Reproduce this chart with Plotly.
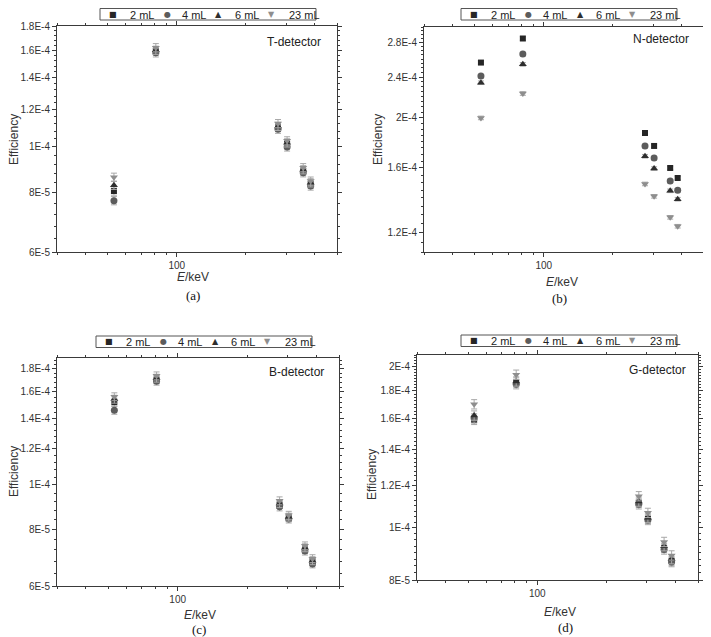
import math
import plotly.graph_objects as go

# ---------------- data ----------------
energies_keV = [53.16, 80.99, 276.40, 302.85, 356.01, 383.85]
volumes = ["2 mL", "4 mL", "6 mL", "23 mL"]

t_2ml = [8.07e-5, 1.595e-4, 1.100e-4, 1.015e-4, 8.90e-5, 8.35e-5]
t_4ml = [7.70e-5, 1.580e-4, 1.090e-4, 1.000e-4, 8.82e-5, 8.27e-5]
t_6ml = [8.30e-5, 1.600e-4, 1.105e-4, 1.020e-4, 8.95e-5, 8.40e-5]
t_23ml = [8.63e-5, 1.620e-4, 1.120e-4, 1.030e-4, 9.04e-5, 8.47e-5]

n_2ml = [2.56e-4, 2.85e-4, 1.870e-4, 1.765e-4, 1.600e-4, 1.530e-4]
n_4ml = [2.41e-4, 2.66e-4, 1.765e-4, 1.673e-4, 1.510e-4, 1.449e-4]
n_6ml = [2.34e-4, 2.54e-4, 1.686e-4, 1.596e-4, 1.445e-4, 1.392e-4]
n_23ml = [2.00e-4, 2.23e-4, 1.490e-4, 1.410e-4, 1.284e-4, 1.234e-4]

b_2ml = [1.520e-4, 1.704e-4, 9.06e-5, 8.48e-5, 7.22e-5, 6.80e-5]
b_4ml = [1.459e-4, 1.690e-4, 8.95e-5, 8.42e-5, 7.16e-5, 6.71e-5]
b_6ml = [1.543e-4, 1.716e-4, 9.10e-5, 8.50e-5, 7.28e-5, 6.82e-5]
b_23ml = [1.562e-4, 1.736e-4, 9.23e-5, 8.58e-5, 7.35e-5, 6.89e-5]

g_2ml = [1.590e-4, 1.867e-4, 1.114e-4, 1.040e-4, 9.18e-5, 8.68e-5]
g_4ml = [1.600e-4, 1.853e-4, 1.107e-4, 1.035e-4, 9.12e-5, 8.64e-5]
g_6ml = [1.620e-4, 1.875e-4, 1.120e-4, 1.045e-4, 9.25e-5, 8.75e-5]
g_23ml = [1.700e-4, 1.930e-4, 1.146e-4, 1.067e-4, 9.42e-5, 8.89e-5]

detectors = ["T-detector", "N-detector", "B-detector", "G-detector"]
panel_tags = ["(a)", "(b)", "(c)", "(d)"]

t_ytick_vals = [6e-5, 8e-5, 1e-4, 1.2e-4, 1.4e-4, 1.6e-4, 1.8e-4]
t_ytick_text = ["6E-5", "8E-5", "1E-4", "1.2E-4", "1.4E-4", "1.6E-4", "1.8E-4"]
n_ytick_vals = [1.2e-4, 1.6e-4, 2e-4, 2.4e-4, 2.8e-4]
n_ytick_text = ["1.2E-4", "1.6E-4", "2E-4", "2.4E-4", "2.8E-4"]
b_ytick_vals = [6e-5, 8e-5, 1e-4, 1.2e-4, 1.4e-4, 1.6e-4, 1.8e-4]
b_ytick_text = ["6E-5", "8E-5", "1E-4", "1.2E-4", "1.4E-4", "1.6E-4", "1.8E-4"]
g_ytick_vals = [8e-5, 1e-4, 1.2e-4, 1.4e-4, 1.6e-4, 1.8e-4, 2e-4]
g_ytick_text = ["8E-5", "1E-4", "1.2E-4", "1.4E-4", "1.6E-4", "1.8E-4", "2E-4"]

x_tick_vals = [100]
x_tick_text = ["100"]
x_minor_vals = [30, 40, 50, 60, 70, 80, 90, 200, 300, 400, 500]

# ---------------- layout helpers ----------------
# The page body keeps its default 8 px margin, so the figure is made 8 px
# smaller and every screen position below is shifted by that offset.
OFF = 8
W, H = 711 - OFF, 637 - OFF


def px(x):
    return (x - OFF) / W


def py(y):
    return 1 - (y - OFF) / H


panels = [
    dict(series=[t_2ml, t_4ml, t_6ml, t_23ml], yr=(6e-5, 1.8e-4), tv=t_ytick_vals, tt=t_ytick_text,
         minor_step=4e-6, xd=(57, 337), yd=(26, 252), leg=(100, 8.5), det=(323, 42),
         eff=(14, 140), exl=(193, 277), tag=(193, 295)),
    dict(series=[n_2ml, n_4ml, n_6ml, n_23ml], yr=(1.1e-4, 3.0e-4), tv=n_ytick_vals, tt=n_ytick_text,
         minor_step=5e-6, xd=(424, 704), yd=(27, 252), leg=(461, 8.5), det=(691, 39),
         eff=(378, 140), exl=(562, 282), tag=(559, 298)),
    dict(series=[b_2ml, b_4ml, b_6ml, b_23ml], yr=(6e-5, 1.9e-4), tv=b_ytick_vals, tt=b_ytick_text,
         minor_step=4e-6, xd=(57, 339), yd=(358, 586), leg=(96, 336), det=(326, 372),
         eff=(14, 472), exl=(200, 615), tag=(199, 629)),
    dict(series=[g_2ml, g_4ml, g_6ml, g_23ml], yr=(8e-5, 2.1e-4), tv=g_ytick_vals, tt=g_ytick_text,
         minor_step=2.5e-6, xd=(417, 698), yd=(355, 580), leg=(461, 335), det=(688, 370),
         eff=(372, 475), exl=(560, 612), tag=(565, 627)),
]

symbols = ["square", "circle", "triangle-up", "triangle-down"]
glyphs = ["■", "●", "▲", "▼"]
colors = ["#262626", "#5c5c5c", "#2e2e2e", "#8e8e8e"]
sizes = [6, 7, 7, 7]
leg_marker_dx = [13, 67, 119, 171]
leg_text_dx = [28, 80, 133, 187]
LEG_W, LEG_H = 216, 11.5

fig = go.Figure()
annotations = []
shapes = []
layout_updates = {}
font_sans = "Liberation Sans, Arial, sans-serif"
font_narrow = "Liberation Sans Narrow, Arial Narrow, Liberation Sans, Arial, sans-serif"

for i, p in enumerate(panels):
    k = "" if i == 0 else str(i + 1)
    xa, ya = "x" + k, "y" + k
    for j, vals in enumerate(p["series"]):
        fig.add_trace(go.Scatter(
            x=energies_keV, y=vals, mode="markers", name=volumes[j],
            xaxis=xa, yaxis=ya, showlegend=False,
            marker=dict(symbol=symbols[j], color=colors[j], size=sizes[j]),
            error_y=dict(type="percent", value=2.0 if i != 1 else 0.8,
                         color="#a8a8a8", thickness=1, width=3),
        ))
    # minor y ticks
    lo, hi = p["yr"]
    mvals = []
    v = round(lo / p["minor_step"]) * p["minor_step"]
    while v <= hi * 1.0001:
        if v >= lo * 0.9999:
            mvals.append(v)
        v += p["minor_step"]
    axis_common = dict(showline=True, linecolor="#3a3a3a", linewidth=1, mirror="allticks",
                       ticks="outside", ticklen=4, tickcolor="#3a3a3a", showgrid=False,
                       zeroline=False, automargin=False,
                       tickfont=dict(family=font_narrow, size=10, color="#333"))
    layout_updates["xaxis" + k] = dict(
        type="log", range=[math.log10(30), math.log10(500)],
        domain=[px(p["xd"][0]), px(p["xd"][1])], anchor=ya,
        tickmode="array", tickvals=x_tick_vals, ticktext=x_tick_text,
        minor=dict(tickmode="array", tickvals=x_minor_vals, ticks="outside", ticklen=2,
                   tickcolor="#3a3a3a"),
        **axis_common)
    layout_updates["yaxis" + k] = dict(
        type="log", range=[math.log10(lo), math.log10(hi)],
        domain=[py(p["yd"][1]), py(p["yd"][0])], anchor=xa,
        tickmode="array", tickvals=p["tv"], ticktext=p["tt"],
        minor=dict(tickmode="array", tickvals=mvals, ticks="outside", ticklen=2,
                   tickcolor="#3a3a3a"),
        **axis_common)

    # manual legend box
    lx, ly = p["leg"]
    shapes.append(dict(type="rect", xref="paper", yref="paper",
                       x0=px(lx), x1=px(lx + LEG_W), y0=py(ly + LEG_H), y1=py(ly),
                       line=dict(color="#555", width=1), fillcolor="rgba(0,0,0,0)"))
    cy = ly + LEG_H / 2
    for j in range(4):
        annotations.append(dict(text=glyphs[j], x=px(lx + leg_marker_dx[j]), y=py(cy),
                                xref="paper", yref="paper", xanchor="center", yanchor="middle",
                                showarrow=False,
                                font=dict(family="DejaVu Sans", size=8, color=colors[j])))
        annotations.append(dict(text=volumes[j], x=px(lx + leg_text_dx[j]), y=py(cy + 0.5),
                                xref="paper", yref="paper", xanchor="left", yanchor="middle",
                                showarrow=False,
                                font=dict(family=font_narrow, size=11, color="#222")))

    annotations += [
        dict(text=detectors[i], x=px(p["det"][0]), y=py(p["det"][1]), xref="paper", yref="paper",
             xanchor="right", yanchor="middle", showarrow=False,
             font=dict(family=font_sans, size=12, color="#222")),
        dict(text="Efficiency", x=px(p["eff"][0]), y=py(p["eff"][1]), xref="paper", yref="paper",
             xanchor="center", yanchor="middle", textangle=-90, showarrow=False,
             font=dict(family=font_sans, size=12, color="#333")),
        dict(text="<i>E</i>/keV", x=px(p["exl"][0]), y=py(p["exl"][1]), xref="paper", yref="paper",
             xanchor="center", yanchor="middle", showarrow=False,
             font=dict(family=font_sans, size=12, color="#333")),
        dict(text=panel_tags[i], x=px(p["tag"][0]), y=py(p["tag"][1]), xref="paper", yref="paper",
             xanchor="center", yanchor="middle", showarrow=False,
             font=dict(family="Liberation Serif, Times New Roman, serif", size=13, color="#111")),
    ]

fig.update_layout(
    width=W, height=H, margin=dict(l=0, r=0, t=0, b=0, autoexpand=False),
    paper_bgcolor="white", plot_bgcolor="white",
    annotations=annotations, shapes=shapes, showlegend=False,
    **layout_updates,
)

fig.write_html("out.html")
